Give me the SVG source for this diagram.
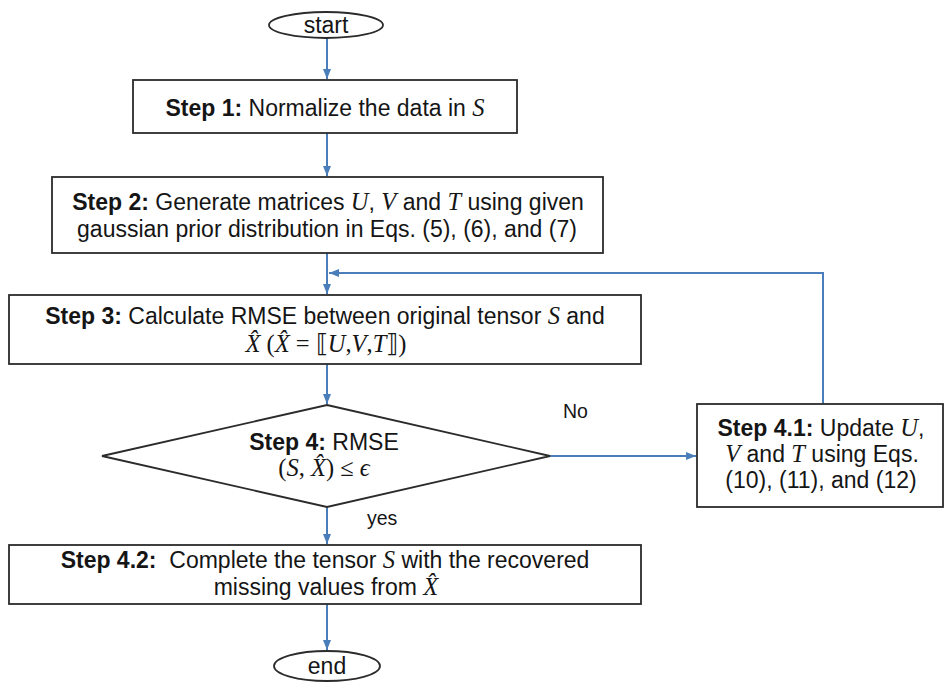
<svg xmlns="http://www.w3.org/2000/svg" width="944" height="684" viewBox="0 0 944 684">
<style>
.box{fill:#fff;stroke:#2b2b2b;stroke-width:1.8}
.t{font-family:"Liberation Sans",Arial,sans-serif;font-size:23px;fill:#151515;text-anchor:middle}
.b{font-weight:bold}
.m{font-family:"Liberation Serif","DejaVu Serif",serif;font-style:italic;font-size:24.5px}
.u{font-family:"Liberation Serif","DejaVu Serif",serif;font-style:normal;font-size:24.5px}
.c{fill:none;stroke:#4a7ebb;stroke-width:2}
.lbl{font-family:"Liberation Sans",Arial,sans-serif;font-size:19.5px;fill:#151515}
</style>
<defs>
<marker id="ah" markerWidth="10" markerHeight="10" viewBox="0 0 10 10" refX="10" refY="5" orient="auto" markerUnits="userSpaceOnUse">
<path d="M0,1 L10,5 L0,9 z" fill="#4a7ebb"/>
</marker>
</defs>
<rect width="944" height="684" fill="#fff"/>
<g id="connectors">
<line class="c" x1="327" y1="38" x2="327" y2="79" marker-end="url(#ah)"/>
<line class="c" x1="327" y1="133" x2="327" y2="176" marker-end="url(#ah)"/>
<line class="c" x1="327" y1="253" x2="327" y2="294" marker-end="url(#ah)"/>
<line class="c" x1="327" y1="364" x2="327" y2="404" marker-end="url(#ah)"/>
<line class="c" x1="550" y1="456" x2="696" y2="456" marker-end="url(#ah)"/>
<polyline class="c" points="823,404 823,273 329,273" marker-end="url(#ah)"/>
<line class="c" x1="327" y1="507" x2="327" y2="544" marker-end="url(#ah)"/>
<line class="c" x1="327" y1="604" x2="327" y2="650" marker-end="url(#ah)"/>
<text class="lbl" x="563" y="418">No</text>
<text class="lbl" x="367" y="525">yes</text>
</g>
<g id="start">
<ellipse class="box" cx="326" cy="25" rx="57" ry="13"/>
<text class="t" x="326" y="33">start</text>
</g>
<g id="step1">
<rect class="box" x="133" y="80" width="384" height="53"/>
<text class="t" x="325" y="116"><tspan class="b">Step 1:</tspan> Normalize the data in <tspan class="m">S</tspan></text>
</g>
<g id="step2">
<rect class="box" x="52" y="177" width="551" height="76"/>
<text class="t" x="328" y="210"><tspan class="b">Step 2:</tspan> Generate matrices <tspan class="m">U</tspan>, <tspan class="m">V</tspan> and <tspan class="m">T</tspan> using given</text>
<text class="t" x="327" y="237">gaussian prior distribution in Eqs. (5), (6), and (7)</text>
</g>
<g id="step3">
<rect class="box" x="9" y="295" width="632" height="69"/>
<text class="t" x="325" y="324"><tspan class="b">Step 3:</tspan> Calculate RMSE between original tensor <tspan class="m">S</tspan> and</text>
<text class="t" x="326" y="352"><tspan class="m">X̂</tspan><tspan class="u"> (</tspan><tspan class="m">X̂</tspan><tspan class="u"> =  ⟦</tspan><tspan class="m">U</tspan><tspan class="u">,</tspan><tspan class="m">V</tspan><tspan class="u">,</tspan><tspan class="m">T</tspan><tspan class="u">⟧)</tspan></text>
</g>
<g id="step4">
<polygon class="box" points="327,405 550,456 327,507 102,456"/>
<text class="t" x="324" y="450"><tspan class="b">Step 4:</tspan> RMSE</text>
<text class="t" x="324" y="476"><tspan class="u">(</tspan><tspan class="m">S</tspan><tspan class="u">, </tspan><tspan class="m">X̂</tspan><tspan class="u">) ≤ </tspan><tspan class="m">ϵ</tspan></text>
</g>
<g id="step41">
<rect class="box" x="697" y="404" width="246" height="103"/>
<text class="t" x="821" y="436"><tspan class="b">Step 4.1:</tspan> Update <tspan class="m">U</tspan>,</text>
<text class="t" x="822" y="462"><tspan class="m">V</tspan> and <tspan class="m">T</tspan> using Eqs.</text>
<text class="t" x="821" y="488">(10), (11), and (12)</text>
</g>
<g id="step42">
<rect class="box" x="9" y="545" width="632" height="59"/>
<text class="t" x="325" y="568" xml:space="preserve"><tspan class="b">Step 4.2:</tspan>  Complete the tensor <tspan class="m">S</tspan> with the recovered</text>
<text class="t" x="326" y="595">missing values from <tspan class="m">X̂</tspan></text>
</g>
<g id="end">
<ellipse class="box" cx="327" cy="666" rx="53" ry="15"/>
<text class="t" x="327" y="674">end</text>
</g>
</svg>
